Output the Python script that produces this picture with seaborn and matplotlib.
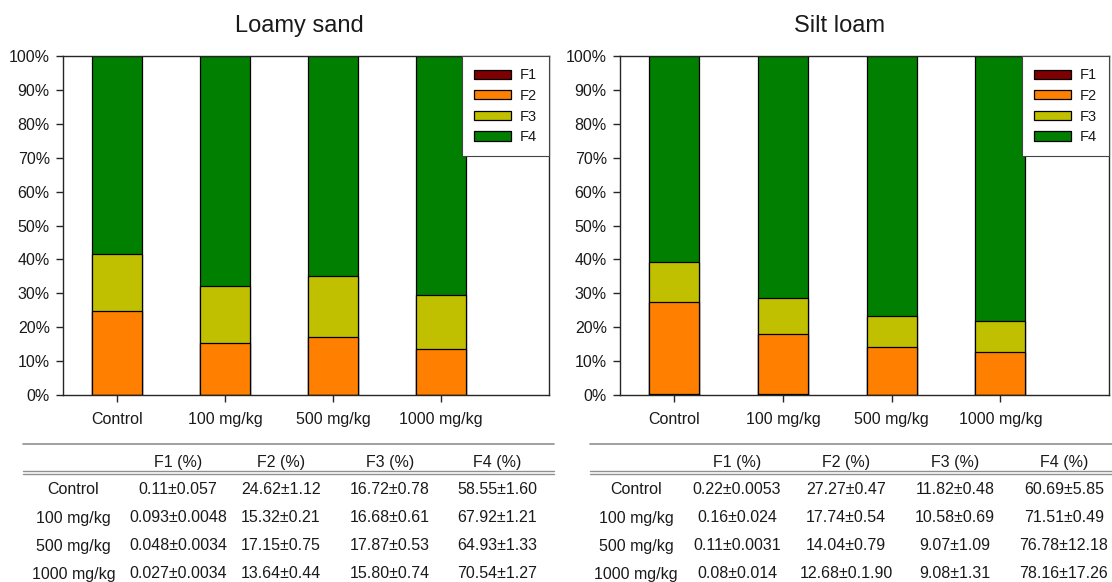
import numpy as np
import matplotlib
matplotlib.use("Agg")
import matplotlib.pyplot as plt
from matplotlib.lines import Line2D
import seaborn as sns

treatments = ["Control", "100 mg/kg", "500 mg/kg", "1000 mg/kg"]
fractions = ["F1", "F2", "F3", "F4"]
fraction_colors = ["#7f0000", "#ff8000", "#c0c000", "#007f00"]

# Loamy sand: mean and SD (%) of each fraction per treatment
loamy_f1 = ["0.11", "0.093", "0.048", "0.027"]
loamy_f1_sd = ["0.057", "0.0048", "0.0034", "0.0034"]
loamy_f2 = ["24.62", "15.32", "17.15", "13.64"]
loamy_f2_sd = ["1.12", "0.21", "0.75", "0.44"]
loamy_f3 = ["16.72", "16.68", "17.87", "15.80"]
loamy_f3_sd = ["0.78", "0.61", "0.53", "0.74"]
loamy_f4 = ["58.55", "67.92", "64.93", "70.54"]
loamy_f4_sd = ["1.60", "1.21", "1.33", "1.27"]

# Silt loam: mean and SD (%) of each fraction per treatment
silt_f1 = ["0.22", "0.16", "0.11", "0.08"]
silt_f1_sd = ["0.0053", "0.024", "0.0031", "0.014"]
silt_f2 = ["27.27", "17.74", "14.04", "12.68"]
silt_f2_sd = ["0.47", "0.54", "0.79", "0.1.90"]
silt_f3 = ["11.82", "10.58", "9.07", "9.08"]
silt_f3_sd = ["0.48", "0.69", "1.09", "1.31"]
silt_f4 = ["60.69", "71.51", "76.78", "78.16"]
silt_f4_sd = ["5.85", "0.49", "12.18", "17.26"]

sns.set_style("ticks")
plt.rcParams["font.family"] = ["Liberation Sans", "DejaVu Sans"]
plt.rcParams["axes.edgecolor"] = "#262626"
plt.rcParams["text.color"] = "#1a1a1a"

W, H = 1112, 582
fig = plt.figure(figsize=(W / 100, H / 100), dpi=100)


def fx(x):
    return x / W


def fy(y):
    return 1 - y / H


def draw_panel(rect, means, title, title_x):
    left, top, right, bottom = rect
    ax = fig.add_axes([fx(left), fy(bottom), (right - left) / W, (bottom - top) / H])
    vals = np.array([[float(v) for v in m] for m in means])
    cum = np.cumsum(vals, axis=0)
    # stack by overlaying cumulative totals, tallest first
    for i in range(len(fractions) - 1, -1, -1):
        sns.barplot(x=treatments, y=cum[i], color=fraction_colors[i], saturation=1,
                    width=0.46, edgecolor="black", linewidth=0.9, errorbar=None,
                    label=fractions[i], ax=ax)
    ax.set_xlim(-0.5, 4.0)
    ax.set_ylim(0, 100)
    ticks = np.arange(0, 101, 10)
    ax.set_yticks(ticks)
    ax.set_yticklabels([f"{t}%" for t in ticks])
    ax.set_xlabel("")
    ax.set_ylabel("")
    for s in ax.spines.values():
        s.set_linewidth(1.0)
        s.set_visible(True)
    ax.tick_params(axis="both", direction="out", length=5, width=1,
                   labelsize=11.5, colors="#262626", labelcolor="#1a1a1a")
    ax.tick_params(axis="y", pad=4.5)
    ax.tick_params(axis="x", pad=7.5)
    handles, labels = ax.get_legend_handles_labels()
    leg = ax.legend(handles[::-1], labels[::-1], loc="upper right", borderaxespad=0,
                    fancybox=False, edgecolor="#444444", framealpha=1, fontsize=10.5,
                    handlelength=2.5, handleheight=0.6, handletextpad=0.6,
                    labelspacing=0.45, borderpad=0.85)
    leg.get_frame().set_linewidth(0.8)
    fig.text(fx(title_x), fy(26), title, fontsize=17, ha="center", va="center")
    return ax


def draw_table(x0, x1, col_x, means, sds):
    grey = "#8f8f8f"
    fig.add_artist(Line2D([fx(x0), fx(x1)], [fy(443.5)] * 2, color=grey, lw=1.2))
    fig.add_artist(Line2D([fx(x0), fx(x1)], [fy(470.5)] * 2, color=grey, lw=1.0))
    fig.add_artist(Line2D([fx(x0), fx(x1)], [fy(473.5)] * 2, color=grey, lw=1.0))
    for j, name in enumerate(fractions):
        fig.text(fx(col_x[j + 1]), fy(463), f"{name} (%)", fontsize=11.5,
                 ha="center", va="center")
    row_y = [490, 518, 546, 574]
    for r, treat in enumerate(treatments):
        fig.text(fx(col_x[0]), fy(row_y[r]), treat, fontsize=11.5, ha="center", va="center")
        for j in range(len(fractions)):
            fig.text(fx(col_x[j + 1]), fy(row_y[r]), f"{means[j][r]}±{sds[j][r]}",
                     fontsize=11.5, ha="center", va="center")


loamy_means = [loamy_f1, loamy_f2, loamy_f3, loamy_f4]
loamy_sds = [loamy_f1_sd, loamy_f2_sd, loamy_f3_sd, loamy_f4_sd]
silt_means = [silt_f1, silt_f2, silt_f3, silt_f4]
silt_sds = [silt_f1_sd, silt_f2_sd, silt_f3_sd, silt_f4_sd]

draw_panel((63, 56, 549, 395), loamy_means, "Loamy sand", 299)
draw_panel((620, 56, 1109, 395), silt_means, "Silt loam", 839)

draw_table(23, 554, [73.5, 178, 281, 390, 497], loamy_means, loamy_sds)
draw_table(590, 1112, [636, 737, 846, 955, 1064], silt_means, silt_sds)

fig.savefig("out.png", dpi=100)
